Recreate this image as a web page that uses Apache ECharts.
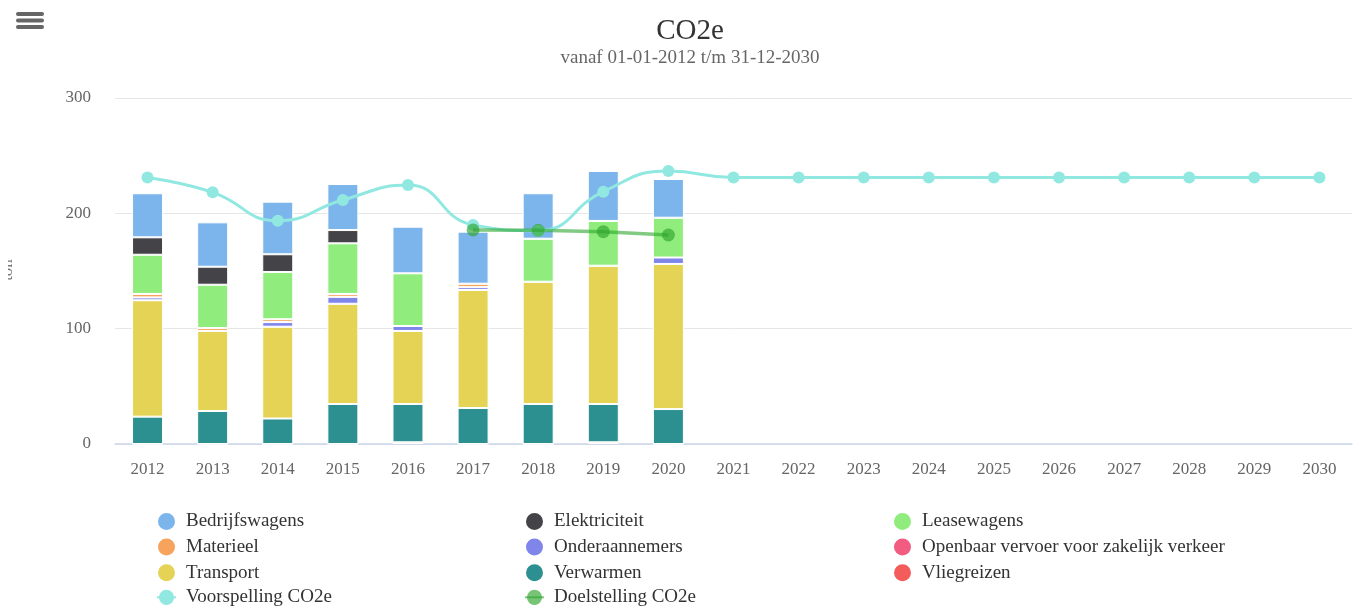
<!DOCTYPE html>
<html>
<head>
<meta charset="utf-8">
<script src="https://cdn.jsdelivr.net/npm/echarts@6/dist/echarts.min.js"></script>
<style>
html,body{margin:0;padding:0;background:#fff;}
#chart{width:1359px;height:610px;}
</style>
</head>
<body>
<div id="chart"></div>
<script>
const years = ['2012','2013','2014','2015','2016','2017','2018','2019','2020','2021','2022','2023','2024','2025','2026','2027','2028','2029','2030'];
const yTicks = [0, 100, 200, 300];

// stacked bar values (2012-2020)
const bedrijfswagens = [38.2, 38.5, 45.6, 39.9, 40.4, 45.1, 39.4, 43.3, 33.6];
const elektriciteit  = [15.1, 15.6, 15.4, 11.5, 0, 0, 0, 0, 0];
const leasewagens    = [34.0, 37.6, 40.9, 43.9, 45.7, 0, 37.3, 38.8, 34.5];
const materieel      = [3.0, 2.5, 2.5, 2.5, 0, 3.0, 0, 0, 0];
const onderaannemers = [2.5, 0, 4.0, 6.0, 4.3, 2.5, 0, 0, 5.6];
const openbaarVervoer= [0, 0, 0, 0, 0, 0, 0, 0, 0];
const transport      = [100.9, 69.4, 79.6, 86.9, 63.3, 102.3, 106.0, 119.9, 125.8];
const verwarmen      = [23.7, 28.6, 22.1, 34.7, 33.2, 31.2, 34.7, 33.2, 30.3];
const vliegreizen    = [0, 0, 0, 0, 1.5, 0, 0, 1.5, 0];

// lines
const voorspelling = [231.1, 218.2, 193.6, 211.6, 224.6, 189.9, 185.0, 218.8, 236.7, 231.1, 231.1, 231.1, 231.1, 231.1, 231.1, 231.1, 231.1, 231.1, 231.1];
const doelstelling = [null, null, null, null, null, 185.6, 185.3, 184.1, 181.2];

const FONT = '"Liberation Serif", "DejaVu Serif", serif';

const barDefs = [
  ['Vliegreizen', vliegreizen, '#f45b5b'],
  ['Verwarmen', verwarmen, '#2b908f'],
  ['Transport', transport, '#e4d354'],
  ['Openbaar vervoer voor zakelijk verkeer', openbaarVervoer, '#f15c80'],
  ['Onderaannemers', onderaannemers, '#8085e9'],
  ['Materieel', materieel, '#f7a35c'],
  ['Leasewagens', leasewagens, '#90ed7d'],
  ['Elektriciteit', elektriciteit, '#434348'],
  ['Bedrijfswagens', bedrijfswagens, '#7cb5ec']
];

const series = barDefs.map(([name, data, color]) => ({
  name: name,
  type: 'bar',
  stack: 'co2',
  data: data,
  barWidth: 31,
  itemStyle: { color: color, borderColor: '#ffffff', borderWidth: 1 },
  emphasis: { disabled: true },
  z: 2
}));

series.push({
  name: 'Voorspelling CO2e',
  type: 'line',
  data: voorspelling,
  smooth: 0.5,
  symbol: 'circle',
  symbolSize: 12,
  color: '#91e8e1',
  lineStyle: { width: 3, color: '#91e8e1' },
  itemStyle: { color: '#91e8e1' },
  z: 3
});
series.push({
  name: 'Doelstelling CO2e',
  type: 'line',
  data: doelstelling,
  symbol: 'circle',
  symbolSize: 13,
  color: 'rgba(46,165,46,0.65)',
  lineStyle: { width: 3.5, color: 'rgba(46,165,46,0.6)' },
  itemStyle: { color: 'rgba(46,165,46,0.65)' },
  z: 4
});

function legendCol(left, names) {
  return {
    orient: 'vertical',
    left: left,
    top: 511,
    height: 110,
    padding: 0,
    itemWidth: 19,
    itemHeight: 19,
    itemGap: 4.6,
    selectedMode: false,
    textStyle: { fontFamily: FONT, fontSize: 19, color: '#333', padding: [0, 0, 0, 5] },
    data: names.map(n => (n.indexOf('CO2e') >= 0 ? { name: n } : { name: n, icon: 'circle' }))
  };
}

const chart = echarts.init(document.getElementById('chart'), null, { renderer: 'canvas' });
chart.setOption({
  animation: false,
  backgroundColor: '#fff',
  title: {
    text: 'CO2e',
    subtext: 'vanaf 01-01-2012 t/m 31-12-2030',
    left: 685,
    textAlign: 'center',
    top: 12,
    itemGap: 3,
    textStyle: { fontFamily: FONT, fontSize: 29, fontWeight: 'normal', color: '#333' },
    subtextStyle: { fontFamily: FONT, fontSize: 19, color: '#666' }
  },
  legend: [
    legendCol(156, ['Bedrijfswagens', 'Materieel', 'Transport', 'Voorspelling CO2e']),
    legendCol(524, ['Elektriciteit', 'Onderaannemers', 'Verwarmen', 'Doelstelling CO2e']),
    legendCol(892, ['Leasewagens', 'Openbaar vervoer voor zakelijk verkeer', 'Vliegreizen'])
  ],
  grid: { left: 115, right: 7, top: 98, bottom: 166, containLabel: false },
  xAxis: {
    type: 'category',
    data: years,
    axisLine: { lineStyle: { color: '#ccd6eb', width: 1.5 } },
    axisTick: { show: false },
    axisLabel: { fontFamily: FONT, fontSize: 17, color: '#666', margin: 17 }
  },
  yAxis: {
    type: 'value',
    min: yTicks[0],
    max: yTicks[yTicks.length - 1],
    interval: 100,
    axisLine: { show: false },
    axisTick: { show: false },
    splitLine: { lineStyle: { color: '#e6e6e6', width: 1 } },
    axisLabel: { fontFamily: FONT, fontSize: 17, color: '#666', margin: 24, padding: [4, 0, 0, 0] }
  },
  graphic: [
    { type: 'rect', shape: { x: 16, y: 12, width: 28, height: 4, r: 2 }, style: { fill: '#666' } },
    { type: 'rect', shape: { x: 16, y: 18.5, width: 28, height: 4, r: 2 }, style: { fill: '#666' } },
    { type: 'rect', shape: { x: 16, y: 25, width: 28, height: 4, r: 2 }, style: { fill: '#666' } },
    { type: 'text', x: 8, y: 270, rotation: Math.PI / 2, z: 10,
      style: { text: 'ton', fontFamily: FONT, fontSize: 17, fill: '#777', textAlign: 'center', textVerticalAlign: 'middle' } },
    { type: 'rect', z: 11, shape: { x: 0, y: 250, width: 8, height: 40 }, style: { fill: '#fff' } }
  ],
  series: series
});
</script>
</body>
</html>
